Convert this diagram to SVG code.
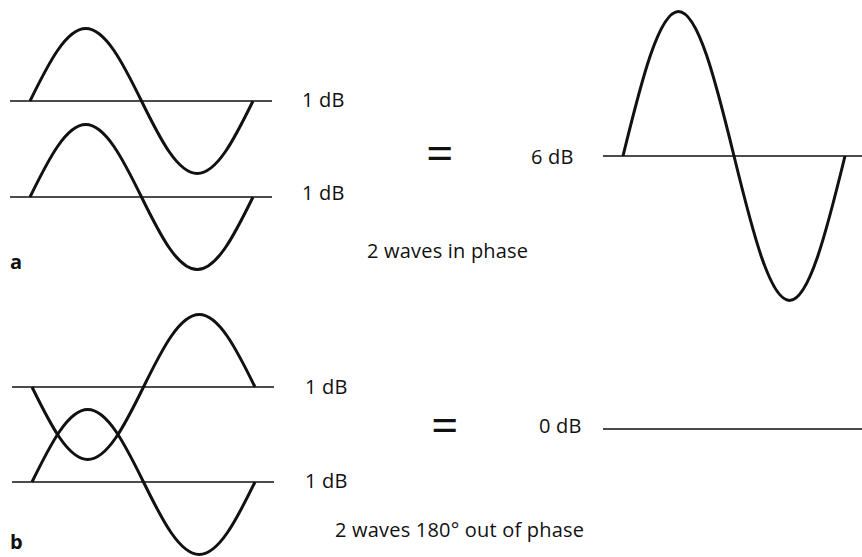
<svg xmlns="http://www.w3.org/2000/svg" width="862" height="557" viewBox="0 0 862 557">
<style>
.base{stroke:#111111;stroke-width:1.4;fill:none}
.wave{stroke:#111111;stroke-width:3;fill:none;stroke-linejoin:round}
.lbl{font-family:"Open Sans","Noto Sans",sans-serif;font-size:20px;letter-spacing:0.2px;fill:#111111}
.eq{font-family:"Open Sans","Noto Sans",sans-serif;font-size:48px;fill:#111111}
.tag{font-family:"Open Sans","Noto Sans",sans-serif;font-size:20px;font-weight:bold;fill:#111111}
</style>
<rect width="862" height="557" fill="#ffffff"/>
<g id="part-a">
  <g id="a-wave1">
    <line class="base" x1="10" y1="101" x2="272" y2="101"/>
    <path class="wave" d="M30,101 c18.64,-38.07 36.21,-72.5 55.75,-72.5 s37.11,34.43 55.75,72.5 s36.21,72.5 55.75,72.5 s37.11,-34.43 55.75,-72.5"/>
    <text class="lbl" x="302" y="107">1 dB</text>
  </g>
  <g id="a-wave2">
    <line class="base" x1="10" y1="197" x2="272" y2="197"/>
    <path class="wave" d="M30,197 c18.64,-38.07 36.21,-72.5 55.75,-72.5 s37.11,34.43 55.75,72.5 s36.21,72.5 55.75,72.5 s37.11,-34.43 55.75,-72.5"/>
    <text class="lbl" x="302" y="200">1 dB</text>
  </g>
  <text class="eq" x="426" y="170">=</text>
  <g id="a-sum">
    <line class="base" x1="603" y1="156" x2="862" y2="156"/>
    <path class="wave" d="M623,156 c18.55,-75.88 36.05,-144.5 55.5,-144.5 s36.95,68.62 55.5,144.5 s36.05,144.5 55.5,144.5 s36.95,-68.62 55.5,-144.5"/>
    <text class="lbl" x="531" y="164">6 dB</text>
  </g>
  <text class="lbl" x="367" y="258">2 waves in phase</text>
  <text class="tag" x="10" y="269">a</text>
</g>
<g id="part-b">
  <g id="b-wave1">
    <line class="base" x1="12" y1="387" x2="274" y2="387"/>
    <path class="wave" d="M32,387 c18.64,38.07 36.21,72.5 55.75,72.5 s37.11,-34.43 55.75,-72.5 s36.21,-72.5 55.75,-72.5 s37.11,34.43 55.75,72.5"/>
    <text class="lbl" x="305" y="394">1 dB</text>
  </g>
  <g id="b-wave2">
    <line class="base" x1="12" y1="482" x2="274" y2="482"/>
    <path class="wave" d="M32,482 c18.64,-38.07 36.21,-72.5 55.75,-72.5 s37.11,34.43 55.75,72.5 s36.21,72.5 55.75,72.5 s37.11,-34.43 55.75,-72.5"/>
    <text class="lbl" x="305" y="488">1 dB</text>
  </g>
  <text class="eq" x="431" y="442">=</text>
  <g id="b-sum">
    <line class="base" x1="603" y1="429" x2="862" y2="429"/>
    <text class="lbl" x="539" y="433">0 dB</text>
  </g>
  <text class="lbl" x="335" y="537">2 waves 180° out of phase</text>
  <text class="tag" x="10" y="549">b</text>
</g>
</svg>
